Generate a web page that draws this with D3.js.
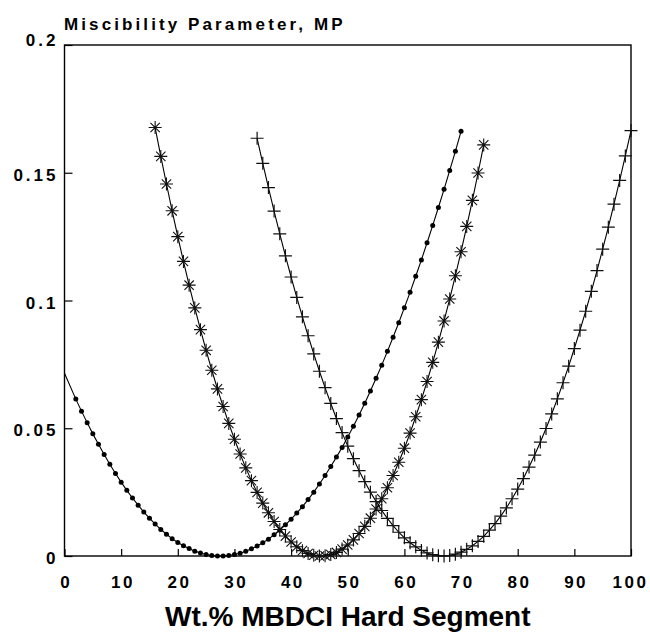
<!DOCTYPE html>
<html lang="en">
<head>
  <meta charset="UTF-8">
  <script src="https://d3js.org/d3.v7.min.js"></script>
  <title>Miscibility Parameter</title>
  <style>
    body { margin: 0; background: #fff; }
    text { font-family: "Liberation Sans", Arial, sans-serif; fill: #000; }
  </style>
</head>
<body>
  <script>
    // dots series
    var dotX = [0, 2, 3, 4, 5, 6, 7, 8, 9, 10, 11, 12, 13, 14, 15, 16, 17, 18, 19, 20,
      21, 22, 23, 24, 25, 26, 27, 28, 29, 30, 31, 32, 33, 34, 35, 36, 37, 38, 39, 40,
      41, 42, 43, 44, 45, 46, 47, 48, 49, 50, 51, 52, 53, 54, 55, 56, 57, 58, 59, 60,
      61, 62, 63, 64, 65, 66, 67, 68, 69, 70];
    var dotY = [0.0715, 0.0614, 0.0567, 0.0522, 0.0478, 0.0437, 0.0397, 0.0359, 0.0323, 0.0289,
      0.0257, 0.0227, 0.0199, 0.0172, 0.0148, 0.0125, 0.0104, 0.0085, 0.0068, 0.0053,
      0.0040, 0.0029, 0.0019, 0.0012, 0.0006, 0.0002, 0.0000, 0.0000, 0.0002, 0.0006,
      0.0011, 0.0019, 0.0028, 0.0039, 0.0052, 0.0066, 0.0083, 0.0101, 0.0122, 0.0144,
      0.0168, 0.0193, 0.0221, 0.0250, 0.0282, 0.0315, 0.0350, 0.0387, 0.0425, 0.0466,
      0.0508, 0.0552, 0.0598, 0.0646, 0.0696, 0.0747, 0.0801, 0.0856, 0.0913, 0.0972,
      0.1032, 0.1095, 0.1159, 0.1226, 0.1294, 0.1364, 0.1435, 0.1509, 0.1584, 0.1662];

    // asterisk series
    var starX = [16, 17, 18, 19, 20, 21, 22, 23, 24, 25, 26, 27, 28, 29, 30, 31, 32, 33, 34, 35,
      36, 37, 38, 39, 40, 41, 42, 43, 44, 45, 46, 47, 48, 49, 50, 51, 52, 53, 54, 55,
      56, 57, 58, 59, 60, 61, 62, 63, 64, 65, 66, 67, 68, 69, 70, 71, 72, 73, 74];
    var starY = [0.1677, 0.1564, 0.1456, 0.1351, 0.1250, 0.1153, 0.1060, 0.0971, 0.0886, 0.0805,
      0.0727, 0.0654, 0.0585, 0.0519, 0.0457, 0.0399, 0.0345, 0.0295, 0.0249, 0.0207,
      0.0169, 0.0135, 0.0104, 0.0078, 0.0055, 0.0036, 0.0021, 0.0010, 0.0003, 0.0000,
      0.0001, 0.0006, 0.0014, 0.0027, 0.0043, 0.0063, 0.0088, 0.0116, 0.0148, 0.0184,
      0.0224, 0.0267, 0.0315, 0.0367, 0.0422, 0.0481, 0.0545, 0.0612, 0.0683, 0.0758,
      0.0837, 0.0920, 0.1006, 0.1097, 0.1191, 0.1290, 0.1392, 0.1499, 0.1609];

    // plus series
    var plusX = [34, 35, 36, 37, 38, 39, 40, 41, 42, 43, 44, 45, 46, 47, 48, 49, 50, 51, 52, 53,
      54, 55, 56, 57, 58, 59, 60, 61, 62, 63, 64, 65, 66, 67, 68, 69, 70, 71, 72, 73,
      74, 75, 76, 77, 78, 79, 80, 81, 82, 83, 84, 85, 86, 87, 88, 89, 90, 91, 92, 93,
      94, 95, 96, 97, 98, 99, 100];
    var plusY = [0.1635, 0.1537, 0.1442, 0.1350, 0.1261, 0.1175, 0.1092, 0.1012, 0.0936, 0.0862,
      0.0791, 0.0723, 0.0659, 0.0597, 0.0538, 0.0483, 0.0430, 0.0381, 0.0334, 0.0291,
      0.0250, 0.0213, 0.0178, 0.0147, 0.0119, 0.0093, 0.0071, 0.0052, 0.0036, 0.0022,
      0.0012, 0.0005, 0.0001, 0.0000, 0.0002, 0.0007, 0.0015, 0.0026, 0.0040, 0.0057,
      0.0077, 0.0101, 0.0127, 0.0156, 0.0188, 0.0224, 0.0262, 0.0303, 0.0348, 0.0395,
      0.0446, 0.0499, 0.0556, 0.0615, 0.0678, 0.0743, 0.0812, 0.0884, 0.0958, 0.1036,
      0.1117, 0.1201, 0.1287, 0.1377, 0.1470, 0.1566, 0.1665];

    var xTicks = [0, 10, 20, 30, 40, 50, 60, 70, 80, 90, 100];
    var yTicks = [0, 0.05, 0.1, 0.15, 0.2];
    var yTickLabels = ['0', '0.05', '0.1', '0.15', '0.2'];

    var W = 650, H = 632;
    var plotL = 64.5, plotR = 631, plotT = 45, plotB = 556;

    var svg = d3.select('body').append('svg')
      .attr('width', W)
      .attr('height', H);

    var x = d3.scaleLinear().domain([0, 100]).range([plotL, plotR]);
    var y = d3.scaleLinear().domain([0, 0.2]).range([plotB, plotT]);

    // frame
    svg.append('rect')
      .attr('x', plotL).attr('y', plotT)
      .attr('width', plotR - plotL).attr('height', plotB - plotT)
      .attr('fill', 'none').attr('stroke', '#000').attr('stroke-width', 1.4);

    var ls = 2.5; // wide tracking of the typed labels

    // x axis, ticks point inward
    var gx = svg.append('g')
      .attr('transform', 'translate(0,' + plotB + ')')
      .call(d3.axisBottom(x).tickValues(xTicks).tickSize(-7).tickPadding(20));
    gx.select('.domain').remove();
    gx.selectAll('line').attr('stroke', '#000').attr('stroke-width', 1.2);
    gx.selectAll('text')
      .attr('font-size', 17).attr('font-weight', 'bold')
      .style('letter-spacing', ls + 'px')
      .attr('dx', function(d) { return d === 100 ? -1 : ls / 2; });

    // y axis
    var gy = svg.append('g')
      .attr('transform', 'translate(' + plotL + ',0)')
      .call(d3.axisLeft(y).tickValues(yTicks).tickSize(-8).tickPadding(9)
        .tickFormat(function(d, i) { return yTickLabels[i]; }));
    gy.select('.domain').remove();
    gy.selectAll('line').attr('stroke', '#000').attr('stroke-width', 1.2);
    gy.selectAll('text')
      .attr('font-size', 17).attr('font-weight', 'bold')
      .style('letter-spacing', '3px').attr('dx', 3)
      .attr('dy', function(d) { return d === 0.2 ? '0em' : '0.45em'; });

    // titles
    svg.append('text')
      .attr('x', 64).attr('y', 30)
      .attr('font-size', 17).attr('font-weight', 'bold')
      .style('letter-spacing', '3.1px')
      .text('Miscibility Parameter, MP');

    svg.append('text')
      .attr('x', (plotL + plotR) / 2).attr('y', 626)
      .attr('text-anchor', 'middle')
      .attr('font-size', 28).attr('font-weight', 'bold')
      .text('Wt.% MBDCI Hard Segment');

    var line = d3.line()
      .x(function(d) { return x(d[0]); })
      .y(function(d) { return y(d[1]); });

    var dots = d3.zip(dotX, dotY);
    var stars = d3.zip(starX, starY);
    var pluses = d3.zip(plusX, plusY);

    [dots, stars, pluses].forEach(function(pts) {
      svg.append('path')
        .datum(pts)
        .attr('d', line)
        .attr('fill', 'none')
        .attr('stroke', '#000')
        .attr('stroke-width', 1.1);
    });

    // dot markers (the reading at x=1 is missing in the figure)
    svg.append('g').selectAll('circle')
      .data(dots.slice(1))
      .enter().append('circle')
      .attr('cx', function(d) { return x(d[0]); })
      .attr('cy', function(d) { return y(d[1]); })
      .attr('r', 2.5)
      .attr('fill', '#000');

    // asterisk markers
    var rs = 6.5, rd = rs * 0.72;
    var starPath = 'M' + (-rs) + ',0L' + rs + ',0M0,' + (-rs) + 'L0,' + rs +
      'M' + (-rd) + ',' + (-rd) + 'L' + rd + ',' + rd +
      'M' + (-rd) + ',' + rd + 'L' + rd + ',' + (-rd);
    svg.append('g').selectAll('path')
      .data(stars)
      .enter().append('path')
      .attr('transform', function(d) { return 'translate(' + x(d[0]) + ',' + y(d[1]) + ')'; })
      .attr('d', starPath)
      .attr('stroke', '#111')
      .attr('stroke-width', 1.1)
      .attr('fill', 'none');

    // plus markers
    var rp = 6.5;
    var plusPath = 'M' + (-rp) + ',0L' + rp + ',0M0,' + (-rp) + 'L0,' + rp;
    svg.append('g').selectAll('path')
      .data(pluses)
      .enter().append('path')
      .attr('transform', function(d) { return 'translate(' + x(d[0]) + ',' + y(d[1]) + ')'; })
      .attr('d', plusPath)
      .attr('stroke', '#111')
      .attr('stroke-width', 1.2)
      .attr('fill', 'none');
  </script>
</body>
</html>
